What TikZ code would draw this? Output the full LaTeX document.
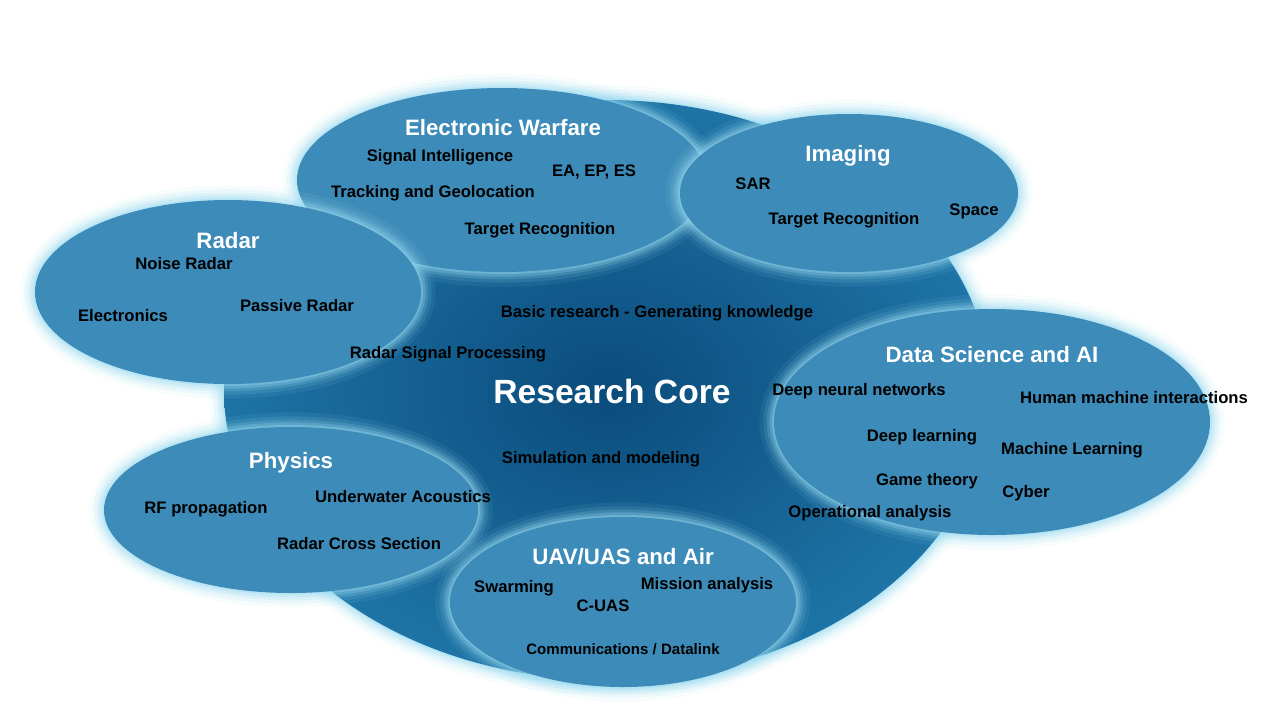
\documentclass[tikz,border=0pt]{standalone}
\usepackage{fontspec}
\setmainfont{Liberation Sans}
\begin{document}
\begin{tikzpicture}[x=0.75pt,y=-0.75pt,
  ttl/.style={font=\bfseries\fontsize{16.7}{19}\selectfont,text=white},
  itm/.style={font=\bfseries\fontsize{12.5}{14}\selectfont,text=black},
]
\definecolor{blob}{HTML}{3D8BB8}
\definecolor{glowc}{HTML}{9ADCF2}
\definecolor{coreIn}{HTML}{0A4C7C}
\definecolor{coreOut}{HTML}{1E74A6}
\useasboundingbox[fill=white] (0,0) rectangle (1280,719);
\newcommand{\glowell}[3]{%
  \foreach \w/\o in {22/0.08,16/0.12,11/0.18,7/0.25,3/0.35}{
    \draw[glowc,line width=\w pt,opacity=\o] (#1) ellipse [x radius=#2,y radius=#3];}}
% core
\glowell{607,390}{383}{290}
\shade[inner color=coreIn,outer color=coreOut] (607,390) ellipse [x radius=383,y radius=290];
% satellites
\foreach \c/\rx/\ry in {{502,180}/205/92,{849,193}/169/79,{228,292}/193/92,{291,510}/187/83,{623,602}/173/85,{992,422}/218/113}{
  \glowell{\c}{\rx}{\ry}
  \fill[blob] (\c) ellipse [x radius=\rx,y radius=\ry];
}
% EW
\node[ttl] (ew) at (503,128) {Electronic Warfare};
\node[itm] (ew1) at (440,157) {Signal Intelligence};
\node[itm] (ew2) at (594,172) {EA, EP, ES};
\node[itm] (ew3) at (433,193) {Tracking and Geolocation};
\node[itm] (ew4) at (540,230) {Target Recognition};
% Imaging
\node[ttl] (im) at (848,156) {Imaging};
\node[itm] (im1) at (753,184) {SAR};
\node[itm] (im2) at (844,220) {Target Recognition};
\node[itm] (im3) at (974,211) {Space};
% Radar
\node[ttl] (ra) at (228,241) {Radar};
\node[itm] (ra1) at (184,264) {Noise Radar};
\node[itm] (ra2) at (123,316) {Electronics};
\node[itm] (ra3) at (297,306) {Passive Radar};
\node[itm] (ra4) at (448,354) {Radar Signal Processing};
% Core
\node[itm] (c1) at (657,313) {Basic research - Generating knowledge};
\node[font=\bfseries\fontsize{25.2}{29}\selectfont,text=white] (core) at (612,391) {Research Core};
\node[itm] (c2) at (601,459) {Simulation and modeling};
% Data science
\node[ttl] (ds) at (992,355) {Data Science and AI};
\node[itm] (ds1) at (859,391) {Deep neural networks};
\node[itm] (ds2) at (1134,398) {Human machine interactions};
\node[itm] (ds3) at (922,437) {Deep learning};
\node[itm] (ds4) at (1072,450) {Machine Learning};
\node[itm] (ds5) at (927,481) {Game theory};
\node[itm] (ds6) at (1026,493) {Cyber};
\node[itm] (ds7) at (870,513) {Operational analysis};
% Physics
\node[ttl] (ph) at (291,463) {Physics};
\node[itm] (ph1) at (206,509) {RF propagation};
\node[itm] (ph2) at (403,497) {Underwater Acoustics};
\node[itm] (ph3) at (359,544) {Radar Cross Section};
% UAV
\node[ttl] (ua) at (623,557) {UAV/UAS and Air};
\node[itm] (ua1) at (514,588) {Swarming};
\node[itm] (ua2) at (707,585) {Mission analysis};
\node[itm] (ua3) at (603,606) {C-UAS};
\node[itm,font=\bfseries\fontsize{11.3}{13}\selectfont] (ua4) at (623,649) {Communications / Datalink};
\end{tikzpicture}
\end{document}
